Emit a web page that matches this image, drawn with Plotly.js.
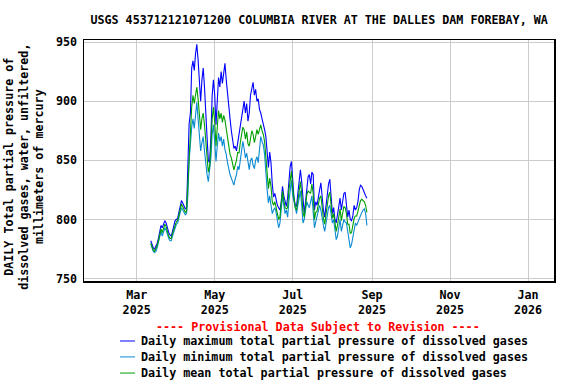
<!DOCTYPE html>
<html>
<head>
<meta charset="utf-8">
<script src="https://cdn.plot.ly/plotly-3.0.1.min.js"></script>
<style>
  body { margin: 0; background: #fff; }
  #GasChart { width: 576px; height: 384px; }
</style>
</head>
<body>
<div id="GasChart"></div>
<script>
// first day of the record, one value per day after that
let startDate = "2025-03-12";

// daily maximum total partial pressure (mm Hg)
let dailyMax = [
  782, 778, 776, 775, 777, 780, 784, 790, 795, 793,
  797, 799, 797, 792, 789, 787, 786, 790, 795, 799,
  800, 801, 806, 812, 816, 814, 811, 809, 810, 840,
  881, 890, 928, 934, 926, 940, 948, 935, 915, 900,
  918, 928, 912, 895, 870, 850, 848, 870, 905, 918,
  905, 880, 900, 920, 912, 925, 915, 925, 932, 918,
  905, 895, 885, 875, 868, 860, 862, 858, 865, 872,
  880, 888, 895, 900, 890, 898, 883, 890, 905, 912,
  916, 905, 910, 900, 902, 893, 890, 885, 881, 876,
  870, 852, 844, 857, 848, 830, 819, 822, 815, 812,
  810, 808, 815, 828, 820, 815, 811, 818, 835, 845,
  849, 830, 818, 812, 811, 822, 835, 842, 832, 815,
  805, 815, 828, 836, 838, 830, 840, 838, 808, 815,
  812, 820, 825, 831, 818, 808, 802, 812, 825, 830,
  834, 818, 805, 810, 800, 797, 805, 812, 818, 808,
  815, 822, 823, 812, 802, 808, 800, 799, 803, 812,
  808, 810, 815, 825, 829, 828, 825, 822, 820, 818
];

// daily minimum
let dailyMin = [
  779, 776, 773, 772, 773, 776, 780, 785, 790, 786,
  790, 793, 791, 787, 784, 782, 782, 786, 790, 794,
  796, 797, 801, 806, 810, 808, 806, 804, 805, 820,
  850, 868, 878, 885, 877, 888, 899, 885, 870, 858,
  865, 870, 858, 845, 838, 832, 840, 852, 872, 880,
  865, 849, 862, 873, 866, 870, 862, 868, 859, 855,
  848, 841, 838, 835, 832, 829, 834, 838, 845, 842,
  850, 858, 866, 860, 852, 856, 848, 842, 850, 852,
  846, 843, 850, 853, 848, 860, 870, 866, 863, 855,
  838, 825, 814, 820, 812, 805, 808, 810, 806, 800,
  793, 797, 810, 820, 812, 805, 808, 802, 815, 825,
  833, 820, 815, 808, 805, 812, 818, 824, 812, 797,
  800, 808, 815, 812, 810, 815, 820, 806, 793, 798,
  802, 806, 812, 808, 800, 795, 790, 798, 806, 810,
  812, 803, 797, 800, 790, 783, 786, 795, 800, 790,
  795, 800, 798, 797, 790, 784, 776, 779, 786, 790,
  797, 795, 798, 800, 803, 806, 808, 809, 805, 795
];

// daily mean
let dailyMean = [
  780, 777, 774, 773, 775, 778, 782, 787, 792, 789,
  793, 796, 794, 789, 786, 784, 784, 788, 792, 796,
  798, 799, 803, 809, 813, 811, 808, 806, 807, 830,
  862, 878, 895, 905, 898, 905, 912, 902, 888, 876,
  885, 890, 880, 866, 852, 840, 845, 860, 885, 895,
  882, 862, 878, 892, 885, 890, 882, 888, 884, 876,
  868, 860, 855, 852, 848, 842, 846, 850, 857, 856,
  865, 870, 878, 876, 868, 874, 864, 862, 870, 875,
  872, 865, 870, 876, 872, 876, 880, 875, 872, 866,
  852, 836, 826, 835, 828, 815, 812, 815, 810, 806,
  800, 802, 812, 824, 816, 810, 809, 810, 825, 835,
  841, 826, 816, 810, 808, 817, 826, 832, 822, 806,
  802, 811, 821, 824, 823, 822, 830, 822, 800, 806,
  807, 813, 818, 820, 809, 801, 796, 805, 815, 820,
  823, 810, 801, 805, 795, 790, 795, 803, 809, 799,
  805, 811, 810, 805, 796, 796, 788, 789, 795, 801,
  803, 803, 807, 812, 816, 817, 816, 815, 812, 806
];

let tickDates = ["2025-03-01", "2025-05-01", "2025-07-01", "2025-09-01", "2025-11-01", "2026-01-01"];
let tickLabels = ["Mar<br>2025", "May<br>2025", "Jul<br>2025", "Sep<br>2025", "Nov<br>2025", "Jan<br>2026"];

let seriesNames = [
  "Daily maximum total partial pressure of dissolved gases",
  "Daily minimum total partial pressure of dissolved gases",
  "Daily mean total partial pressure of dissolved gases"
];
let seriesColors = ["#0000ff", "#0a8ad2", "#00a000"];

// dates for each day of the record
let days = [];
let d0 = new Date(startDate + "T00:00:00Z");
for (let i = 0; i < dailyMax.length; i++) {
    let d = new Date(d0.getTime() + i * 86400000);
    days.push(d.toISOString().slice(0, 10));
}

let monoFont = { family: "DejaVu Sans Mono, Liberation Mono, monospace", size: 11.7, color: "black", weight: "bold" };

let allSeries = [dailyMax, dailyMin, dailyMean];
let dataTrace = allSeries.map((vals, k) => ({
    x: days,
    y: vals,
    name: seriesNames[k],
    type: "scatter",
    mode: "lines",
    line: { color: seriesColors[k], width: 1.1 },
    showlegend: false,
    hoverinfo: "skip"
}));

// legend drawn by hand so the rows sit 16px apart like the original
let legendY = [-0.249, -0.315, -0.382];
let annotations = [
    {
        text: "---- Provisional Data Subject to Revision ----",
        xref: "paper", yref: "paper", x: 0.498, y: -0.191,
        xanchor: "center", yanchor: "middle", showarrow: false,
        font: Object.assign({}, monoFont, { color: "red" })
    },
    {
        text: "DAILY Total partial pressure of<br>dissolved gases, water, unfiltered,<br>millimeters of mercury",
        xref: "paper", yref: "paper", x: -0.128, y: 0.473,
        xanchor: "center", yanchor: "middle", showarrow: false,
        textangle: -90, font: monoFont
    }
];
let shapes = [];
seriesNames.forEach((nm, k) => {
    annotations.push({
        text: nm, xref: "paper", yref: "paper", x: 0.117, y: legendY[k],
        xanchor: "left", yanchor: "middle", showarrow: false, font: monoFont
    });
    shapes.push({
        type: "line", xref: "paper", yref: "paper",
        x0: 0.0766, x1: 0.1085, y0: legendY[k], y1: legendY[k],
        line: { color: seriesColors[k], width: 1 }
    });
});

let layout = {
    width: 576,
    height: 384,
    title: {
        text: "USGS 453712121071200 COLUMBIA RIVER AT THE DALLES DAM FOREBAY, WA",
        font: monoFont,
        x: 0.554, xanchor: "center",
        y: 0.948, yanchor: "middle"
    },
    xaxis: {
        type: "date",
        range: ["2025-01-18 19:00", "2026-01-21 07:00"],
        tickvals: tickDates,
        ticktext: tickLabels,
        tickfont: monoFont,
        showgrid: true,
        gridcolor: "#cccccc",
        gridwidth: 1,
        showline: true,
        linecolor: "black",
        linewidth: 1.5,
        mirror: true,
        ticks: "",
        ticklabelstandoff: 2,
        zeroline: false
    },
    yaxis: {
        range: [748, 951.7],
        tickvals: [750, 800, 850, 900, 950],
        tickfont: monoFont,
        showgrid: true,
        gridcolor: "#cccccc",
        gridwidth: 1,
        showline: true,
        linecolor: "black",
        linewidth: 1.5,
        mirror: true,
        ticks: "",
        ticklabelstandoff: 3,
        zeroline: false
    },
    annotations: annotations,
    shapes: shapes,
    showlegend: false,
    margin: { l: 84, r: 22, t: 40, b: 103, pad: 0 },
    paper_bgcolor: "white",
    plot_bgcolor: "white"
};

Plotly.newPlot("GasChart", dataTrace, layout, { staticPlot: true, displayModeBar: false });
</script>
</body>
</html>
